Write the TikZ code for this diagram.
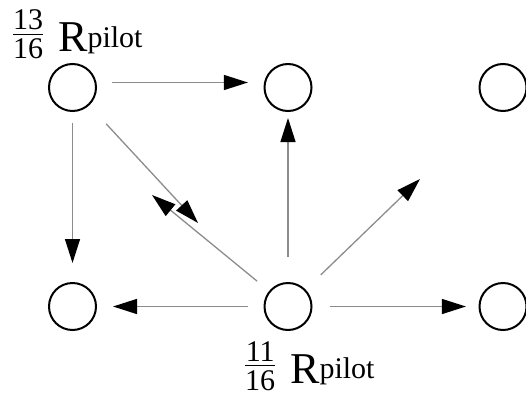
\documentclass[tikz,border=0pt]{standalone}
\usepackage{fontspec}
\setmainfont{Liberation Serif}
\newfontfamily\lblfont{Liberation Serif}
\usetikzlibrary{arrows.meta}

\definecolor{edgegray}{gray}{0.55}

% stacked fraction followed by a large R and a raised "pilot"
\newcommand\pilotlbl[2]{%
  \lblfont
  \raisebox{-7pt}{\fontsize{30}{30}\selectfont
    \vbox{\halign{\hfil##\hfil\cr#1\cr
      \noalign{\kern4pt\hrule height 1pt\kern4pt}#2\cr}}}%
  \hspace{15pt}{\fontsize{44}{44}\selectfont R}%
  \raisebox{5pt}{\fontsize{30}{30}\selectfont pilot}}

\begin{document}
\begin{tikzpicture}[x=1pt,y=-1pt,
  site/.style={circle, draw=black, line width=2pt, minimum size=47pt, inner sep=0pt},
  link/.style={draw=edgegray, line width=1.3pt,
    -{Triangle[length=24pt,width=15pt,color=black,fill=black]}},
  lbl/.style={anchor=base west, inner sep=0pt, font=\lblfont}]
\useasboundingbox (0,0) rectangle (526,396);

% sites
\node[site] (A) at (72.5,87.5) {};
\node[site] (B) at (288,87.5) {};
\node[site] (C) at (503,87.5) {};
\node[site] (D) at (72.5,306.5) {};
\node[site] (E) at (288,306.5) {};
\node[site] (F) at (503,306.5) {};

% open ends of the diagonal moves
\coordinate (tipNE) at (420,179);
\coordinate (tipSE) at (198,223);
\coordinate (tipNW) at (152,195);

% moves from the upper-left site
\draw[link, shorten <=15pt, shorten >=15.6pt] ([yshift=5pt]A.east) -- ([yshift=5pt]B.west);
\draw[link, shorten <=11pt, shorten >=19pt] (A.south) -- (D.north);
\draw[link, shorten <=25pt] (A) -- (tipSE);

% moves from the lower-middle site
\draw[link, shorten <=25pt, shorten >=6pt] (E.north) -- (B.south);
\draw[link, shorten <=15.6pt, shorten >=16pt] (E.west) -- (D.east);
\draw[link, shorten <=17.6pt, shorten >=12.6pt] (E.east) -- (F.west);
\draw[link, shorten <=21pt] (E) -- (tipNE);
\draw[link, shorten <=15.6pt] (E) -- (tipNW);

% radius labels
\node[lbl] (topLbl) at (13,52) {\pilotlbl{13}{16}};
\node[lbl] (botLbl) at (245,383) {\pilotlbl{11}{16}};
\end{tikzpicture}
\end{document}
